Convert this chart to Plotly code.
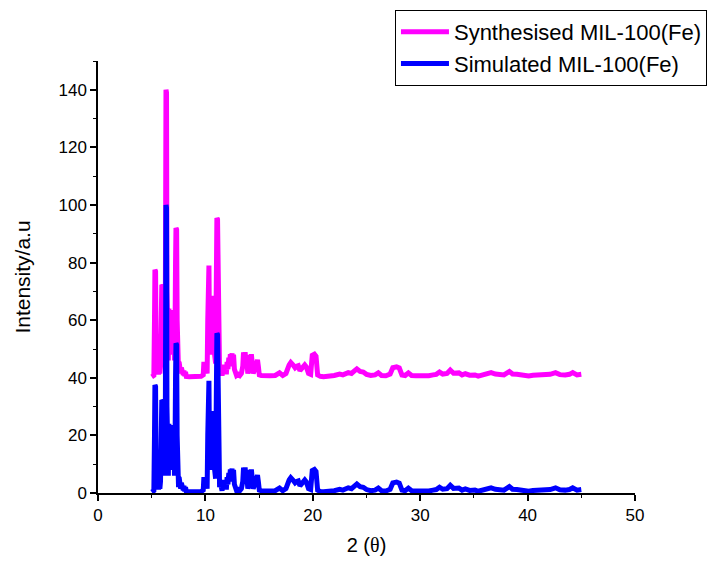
import plotly.graph_objects as go

two_theta = [
    5.00, 5.14, 5.20, 5.26, 5.30, 5.36, 5.40, 5.44, 5.48, 5.52, 5.58, 5.64, 5.70, 5.76, 5.82, 5.88,
    5.94, 6.00, 6.05, 6.10, 6.15, 6.20, 6.25, 6.30, 6.33, 6.38, 6.42, 6.46, 6.50, 6.55, 6.60, 6.64,
    6.68, 6.72, 6.76, 6.80, 6.84, 6.88, 6.92, 6.96, 7.00, 7.04, 7.08, 7.12, 7.17, 7.22, 7.26, 7.32,
    7.37, 7.41, 7.46, 7.50, 7.55, 7.60, 7.65, 7.70, 7.76, 7.82, 7.88, 7.94, 8.00, 8.08, 8.15, 8.22,
    8.50, 9.00, 9.60, 9.80,
    9.86, 9.92, 9.98, 10.04, 10.10, 10.16, 10.22, 10.27, 10.33, 10.38, 10.42, 10.46, 10.50, 10.54,
    10.58, 10.62, 10.66, 10.70, 10.74, 10.78, 10.82, 10.86, 10.90, 10.95, 11.00, 11.07, 11.13, 11.18,
    11.22, 11.27, 11.32, 11.38, 11.45,
    11.55, 11.65, 11.72, 11.80, 11.87, 11.95, 12.02, 12.10, 12.18, 12.25, 12.32, 12.40, 12.48, 12.55,
    12.62, 12.70, 12.78, 12.90, 13.05, 13.20, 13.35, 13.48, 13.55, 13.62, 13.70, 13.78, 13.86, 13.95,
    14.05, 14.12, 14.20, 14.28, 14.36, 14.45, 14.55, 14.65, 14.75, 14.85, 14.93, 15.02, 15.20,
    15.60, 16.00, 16.50, 16.90, 17.20, 17.50, 17.80, 17.95, 18.15, 18.35, 18.50, 18.65, 18.80, 19.00,
    19.25, 19.40, 19.60, 19.80, 19.95, 20.15, 20.30, 20.45, 20.70,
    21.00, 21.50, 22.00, 22.50, 22.80, 23.30, 23.60, 23.90, 24.10, 24.40, 24.70, 25.00, 25.40, 25.80,
    26.10, 26.40, 26.80, 27.20, 27.45, 27.80, 28.05, 28.30, 28.60, 28.90, 29.20, 29.60, 30.00, 30.40,
    30.80, 31.20, 31.50, 31.80, 32.10, 32.50, 32.80, 33.10, 33.60, 33.90, 34.20, 34.60, 35.10, 35.40,
    35.80, 36.20, 36.60, 37.00, 37.40, 37.80, 38.30, 38.60, 39.00, 39.50, 40.10, 40.50, 41.00, 41.50,
    41.80, 42.10, 42.60, 43.00, 43.50, 43.90, 44.20, 44.60, 45.00,
]

simulated = [
    0.3, 0.6, 0.8, 20, 37.5, 37.0, 15, 3, 4, 1.5, 3.5, 1.2, 3, 1.5, 4, 18,
    32.3, 32.0, 12, 22, 8, 18, 6, 60, 100, 99, 30, 8, 21, 6, 24, 10,
    23, 8, 22, 12, 23.5, 9, 22, 10, 23, 8, 20, 6, 15, 40, 52, 51.5,
    20, 4, 6, 2, 5.5, 2, 4.5, 1.5, 3.5, 1.2, 3, 1, 2.5, 0.6, 2.0, 0.5,
    0.4, 0.4, 0.5, 1.0,
    5.5, 2, 5.5, 2.5, 5.0, 1.5, 20, 39.0, 39.0, 15, 28, 8, 27, 10,
    28.5, 9, 27, 8, 28, 10, 27.5, 8, 24, 5, 30, 55.5, 55.0, 20,
    6, 9, 2, 4, 1.0,
    0.8, 3, 4.5, 2, 4.3, 1.2, 5.5, 3, 7, 4, 8.2, 5, 8.5, 4,
    8.0, 3, 1.5, 0.8, 1.2, 0.8, 1.5, 4, 8.8, 5, 8.9, 4, 6, 1.5,
    3, 8.0, 4, 8.2, 3, 1.5, 2.5, 4, 6.0, 6.2, 4, 1.0, 0.8,
    0.6, 0.7, 0.8, 1.7, 0.8, 1.5, 4.5, 5.3, 4.5, 3.5, 4.0, 4.2, 2.5, 3.5,
    4.5, 3.8, 1.5, 1.2, 7.8, 8.2, 7.5, 1.0, 0.5,
    0.4, 0.5, 0.8, 1.3, 1.0, 1.8, 1.5, 2.5, 3.1, 2.2, 2.0, 1.2, 0.8, 1.0,
    1.7, 0.8, 0.7, 1.3, 3.5, 3.8, 3.4, 1.0, 0.8, 1.7, 0.8, 0.7, 0.6, 0.8,
    0.7, 1.0, 1.2, 2.0, 1.3, 1.5, 2.7, 1.6, 1.7, 1.0, 1.4, 0.9, 1.0, 0.6,
    0.9, 1.2, 1.8, 1.3, 1.2, 1.0, 2.2, 1.3, 1.2, 0.9, 0.6, 0.9, 1.0, 1.3,
    1.4, 1.2, 1.8, 1.1, 1.0, 1.2, 1.8, 1.0, 1.2,
]

synthesised = [
    40.3, 40.6, 40.8, 60, 77.5, 77.0, 55, 43, 44, 41.5, 43.5, 41.2, 43, 41.5, 44, 58,
    72.3, 72.0, 52, 62, 48, 58, 46, 100, 140, 139, 70, 48, 61, 46, 64, 50,
    63, 48, 62, 52, 63.5, 49, 62, 50, 63, 48, 60, 46, 55, 80, 92, 91.5,
    60, 44, 46, 42, 45.5, 42, 44.5, 41.5, 43.5, 41.2, 43, 41, 42.5, 40.6, 42.0, 40.5,
    40.4, 40.4, 40.5, 41.0,
    45.5, 42, 45.5, 42.5, 45.0, 41.5, 60, 79.0, 79.0, 55, 68, 48, 67, 50,
    68.5, 49, 67, 48, 68, 50, 67.5, 48, 64, 45, 70, 95.5, 95.0, 60,
    46, 49, 42, 44, 41.0,
    40.8, 43, 44.5, 42, 44.3, 41.2, 45.5, 43, 47, 44, 48.2, 45, 48.5, 44,
    48.0, 43, 41.5, 40.8, 41.2, 40.8, 41.5, 44, 48.8, 45, 48.9, 44, 46, 41.5,
    43, 48.0, 44, 48.2, 43, 41.5, 42.5, 44, 46.0, 46.2, 44, 41.0, 40.8,
    40.6, 40.7, 40.8, 41.7, 40.8, 41.5, 44.5, 45.3, 44.5, 43.5, 44.0, 44.2, 42.5, 43.5,
    44.5, 43.8, 41.5, 41.2, 47.8, 48.2, 47.5, 41.0, 40.5,
    40.4, 40.5, 40.8, 41.3, 41.0, 41.8, 41.5, 42.5, 43.1, 42.2, 42.0, 41.2, 40.8, 41.0,
    41.7, 40.8, 40.7, 41.3, 43.5, 43.8, 43.4, 41.0, 40.8, 41.7, 40.8, 40.7, 40.6, 40.8,
    40.7, 41.0, 41.2, 42.0, 41.3, 41.5, 42.7, 41.6, 41.7, 41.0, 41.4, 40.9, 41.0, 40.6,
    40.9, 41.2, 41.8, 41.3, 41.2, 41.0, 42.2, 41.3, 41.2, 40.9, 40.6, 40.9, 41.0, 41.3,
    41.4, 41.2, 41.8, 41.1, 41.0, 41.2, 41.8, 41.0, 41.2,
]

assert len(two_theta) == len(simulated) == len(synthesised), (len(two_theta), len(simulated), len(synthesised))

x_ticks = [0, 10, 20, 30, 40, 50]
y_ticks = [0, 20, 40, 60, 80, 100, 120, 140]

FONT = "Liberation Sans, Arial, sans-serif"

fig = go.Figure()
fig.add_trace(go.Scatter(x=two_theta, y=synthesised, mode="lines", name="Synthesised MIL-100(Fe)",
                         line=dict(color="#FF00FF", width=5)))
fig.add_trace(go.Scatter(x=two_theta, y=simulated, mode="lines", name="Simulated MIL-100(Fe)",
                         line=dict(color="#0000FF", width=5)))

axis_common = dict(showline=True, linecolor="black", linewidth=1.5, ticks="outside",
                   ticklen=6, tickwidth=1.5, tickcolor="black", showgrid=False, zeroline=False,
                   mirror=False, tickfont=dict(family=FONT, size=17, color="black"))

fig.update_xaxes(range=[0, 50], tickvals=x_ticks, ticktext=[str(v) for v in x_ticks],
                 minor=dict(ticks="outside", ticklen=3, tickwidth=1.2, tickcolor="black", dtick=5, tick0=0),
                 title=dict(text="2 (<span style='font-family:Liberation Serif'>θ</span>)",
                            font=dict(family=FONT, size=20, color="black"), standoff=14),
                 **axis_common)
fig.update_yaxes(range=[0, 150], tickvals=y_ticks, ticktext=[str(v) for v in y_ticks],
                 minor=dict(ticks="outside", ticklen=3, tickwidth=1.2, tickcolor="black", dtick=10, tick0=0),
                 title=dict(text="Intensity/a.u", font=dict(family=FONT, size=21, color="black"), standoff=22),
                 **axis_common)

fig.update_layout(
    width=710, height=564,
    margin=dict(l=98, r=75, t=61, b=71, autoexpand=False),
    plot_bgcolor="white", paper_bgcolor="white",
    font=dict(family=FONT, color="black"),
    legend=dict(x=0.553, y=1.118, xanchor="left", yanchor="top",
                bgcolor="white", bordercolor="black", borderwidth=1,
                font=dict(family=FONT, size=22, color="black"),
                itemwidth=48, tracegroupgap=0),
    showlegend=True,
)

fig.write_html("out.html")
